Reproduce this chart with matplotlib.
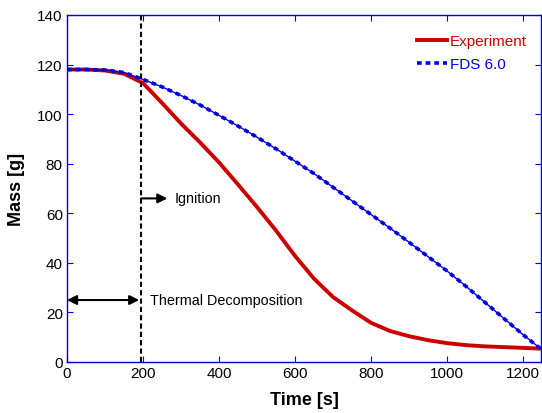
import matplotlib
matplotlib.use("Agg")
import matplotlib.pyplot as plt

plt.rcParams['font.family'] = ['Liberation Sans', 'DejaVu Sans']

# data
t_exp = [0, 50, 100, 150, 200, 250, 300, 350, 400, 450, 500, 550, 600, 650,
         700, 750, 800, 850, 900, 950, 1000, 1050, 1100, 1150, 1200, 1245]
m_exp = [118, 118, 117.6, 116.3, 112.5, 104.5, 96.2, 88.6, 80.5, 71.6, 62.5,
         53.0, 42.8, 33.6, 26.2, 20.8, 15.8, 12.5, 10.4, 8.8, 7.6, 6.8, 6.3,
         6.0, 5.7, 5.4]
t_fds = [0, 50, 100, 150, 200, 250, 300, 350, 400, 450, 500, 550, 600, 650,
         700, 750, 800, 850, 900, 950, 1000, 1050, 1100, 1150, 1200, 1245]
m_fds = [118, 118, 117.8, 116.8, 114, 111, 107.5, 103.7, 99.5, 95.2, 90.7,
         86, 81, 76, 70.5, 65, 59.5, 54, 48.3, 42.5, 36.7, 30.5, 24, 17.5,
         11, 5.5]
t_ign = 195

fig = plt.figure(figsize=(5.42, 4.14), dpi=100)
ax = fig.add_axes([0.1236, 0.1232, 0.8745, 0.8382])

ax.plot(t_exp, m_exp, color='#cc0000', lw=2.8, label='Experiment')
# thin solid core + short dashes gives the beaded look of the original
ax.plot(t_fds, m_fds, color='#0000dd', lw=1)
ax.plot(t_fds, m_fds, color='#0000dd', lw=2.6, ls=(0, (1.3, 1.1)), label='FDS 6.0')
ax.axvline(t_ign, color='black', lw=1.5, ls=(0, (2.5, 1.5)))

ax.annotate('', xy=(0, 25), xytext=(190, 25),
            arrowprops=dict(arrowstyle='<|-|>', color='black', lw=1.5,
                            mutation_scale=14, shrinkA=0, shrinkB=0))
ax.text(218, 25, 'Thermal Decomposition', fontsize=10.4, va='center')
ax.annotate('', xy=(264, 66), xytext=(t_ign, 66),
            arrowprops=dict(arrowstyle='-|>', color='black', lw=1.5,
                            mutation_scale=14, shrinkA=0, shrinkB=0))
ax.text(282, 66, 'Ignition', fontsize=10.4, va='center')

ax.set_xlim(0, 1247)
ax.set_ylim(0, 140)
ax.set_xticks(range(0, 1201, 200))
ax.set_yticks(range(0, 141, 20))
for s in ax.spines.values():
    s.set_color('#0000dd')
    s.set_linewidth(1)
ax.tick_params(direction='in', color='#0000dd', labelsize=11, length=4,
               top=True, right=True, pad=3)
ax.set_xlabel('Time [s]', fontsize=13, fontweight='bold', labelpad=8)
ax.set_ylabel('Mass [g]', fontsize=13, fontweight='bold', labelpad=9)

leg = ax.legend(loc='upper left', bbox_to_anchor=(0.722, 0.967), frameon=False,
                fontsize=11, handlelength=2.0, handletextpad=0.15,
                labelspacing=0.6, borderpad=0)
for txt, ln in zip(leg.get_texts(), leg.get_lines()):
    txt.set_color(ln.get_color())

fig.savefig('out.png', dpi=100)
